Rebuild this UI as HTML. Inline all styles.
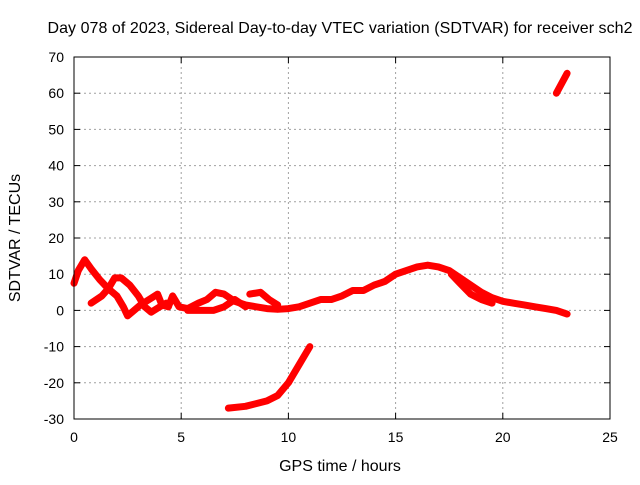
<!DOCTYPE html>
<html><head><meta charset="utf-8"><style>
body{margin:0;background:#fff;}
svg text{font-family:"Liberation Sans",sans-serif;font-size:14px;fill:#000;}
svg text.big{font-size:16px;}
</style></head><body>
<svg id="c" width="640" height="480">
<text class="big" x="340" y="33" text-anchor="middle" textLength="585">Day 078 of 2023, Sidereal Day-to-day VTEC variation (SDTVAR) for receiver sch2</text>
<text class="big" x="340" y="471" text-anchor="middle">GPS time / hours</text>
<text class="big" x="0" y="0" transform="translate(20,238) rotate(-90)" text-anchor="middle">SDTVAR / TECUs</text>
<g id="grid"></g><g id="ticks"></g><g id="marks"></g>
<rect x="74" y="57" width="536" height="362" fill="none" stroke="#000" stroke-width="1"/>
</svg>
<script>
const xTicks=[0,5,10,15,20,25];
const yTicks=[-30,-20,-10,0,10,20,30,40,50,60,70];
const seriesA=[[0,7.5],[0.2,11],[0.5,14],[0.8,11.5],[1.2,8.5],[1.6,6],[2,4],[2.3,1],[2.5,-1.5],[2.8,0],[3.1,1.5],[3.5,3],[3.9,4.5],[4.1,1.5],[4.4,1]];
const seriesB=[[0.8,2],[1.3,4],[1.6,6],[1.9,9],[2.2,9],[2.6,7],[3,4],[3.3,1],[3.6,-0.5],[4,1],[4.3,2]];
const seriesC=[[4.4,1],[4.6,4],[4.9,1],[5.3,0.5],[5.8,2],[6.2,3],[6.6,5],[7,4.5],[7.5,2.5],[8,1.5],[8.5,1],[9,0.5],[9.5,0.3],[10,0.5],[10.5,1],[11,2],[11.5,3],[12,3],[12.5,4],[13,5.5],[13.5,5.5],[14,7],[14.5,8],[15,10],[15.5,11],[16,12],[16.5,12.5],[17,12],[17.5,11],[18,9],[18.5,7],[19,5],[19.5,3.5],[20,2.5],[20.5,2],[21,1.5],[21.5,1],[22,0.5],[22.5,0],[23,-1]];
const seriesD=[[5.3,0],[6,0],[6.5,0],[7,1],[7.5,3],[8,1]];
const seriesE=[[8.2,4.5],[8.7,5],[9.1,3],[9.5,1.5]];
const seriesF=[[17.6,10],[18,7.5],[18.5,4.5],[19,3],[19.5,2]];
const seriesG=[[7.2,-27],[8,-26.5],[9,-25],[9.5,-23.5],[10,-20],[10.5,-15],[11,-10]];
const seriesH=[[22.5,60],[23,65.5]];
const allSeries=[seriesA,seriesB,seriesC,seriesD,seriesE,seriesF,seriesG,seriesH];
const X0=74,X1=610,Y0=419,Y1=57,xMin=0,xMax=25,yMin=-30,yMax=70;
const sx=v=>X0+(v-xMin)/(xMax-xMin)*(X1-X0);
const sy=v=>Y0-(v-yMin)/(yMax-yMin)*(Y0-Y1);
const NS="http://www.w3.org/2000/svg";
const grid=document.getElementById('grid'),ticks=document.getElementById('ticks'),marks=document.getElementById('marks');
function mk(t,a,p){const e=document.createElementNS(NS,t);for(const k in a)e.setAttribute(k,a[k]);p.appendChild(e);return e;}
xTicks.forEach(v=>{const x=sx(v);
 if(v>xMin&&v<xMax){const g=mk('line',{x1:x,x2:x,y1:Y1,y2:Y0,stroke:'#a0a0a0','stroke-dasharray':'2,3'},grid);
 
 }
 mk('line',{x1:x,x2:x,y1:Y0,y2:Y0-6,stroke:'#000'},ticks);mk('line',{x1:x,x2:x,y1:Y1,y2:Y1+6,stroke:'#000'},ticks);
 const t=mk('text',{x:x,y:Y0+23,'text-anchor':'middle'},ticks);t.textContent=v;
 
 });
yTicks.forEach(v=>{const y=sy(v);
 if(v>yMin&&v<yMax){const g=mk('line',{x1:X0,x2:X1,y1:y,y2:y,stroke:'#a0a0a0','stroke-dasharray':'2,3'},grid);
 
 }
 mk('line',{x1:X0,x2:X0+6,y1:y,y2:y,stroke:'#000'},ticks);mk('line',{x1:X1,x2:X1-6,y1:y,y2:y,stroke:'#000'},ticks);
 const t=mk('text',{x:X0-10,y:y+5,'text-anchor':'end'},ticks);t.textContent=v;
 
 });
allSeries.forEach(s=>{const p=mk('polyline',{points:s.map(d=>sx(d[0])+','+sy(d[1])).join(' '),fill:'none',stroke:'#ff0000','stroke-width':7,'stroke-linejoin':'round','stroke-linecap':'round'},marks);
 
 });
</script>
</body></html>
